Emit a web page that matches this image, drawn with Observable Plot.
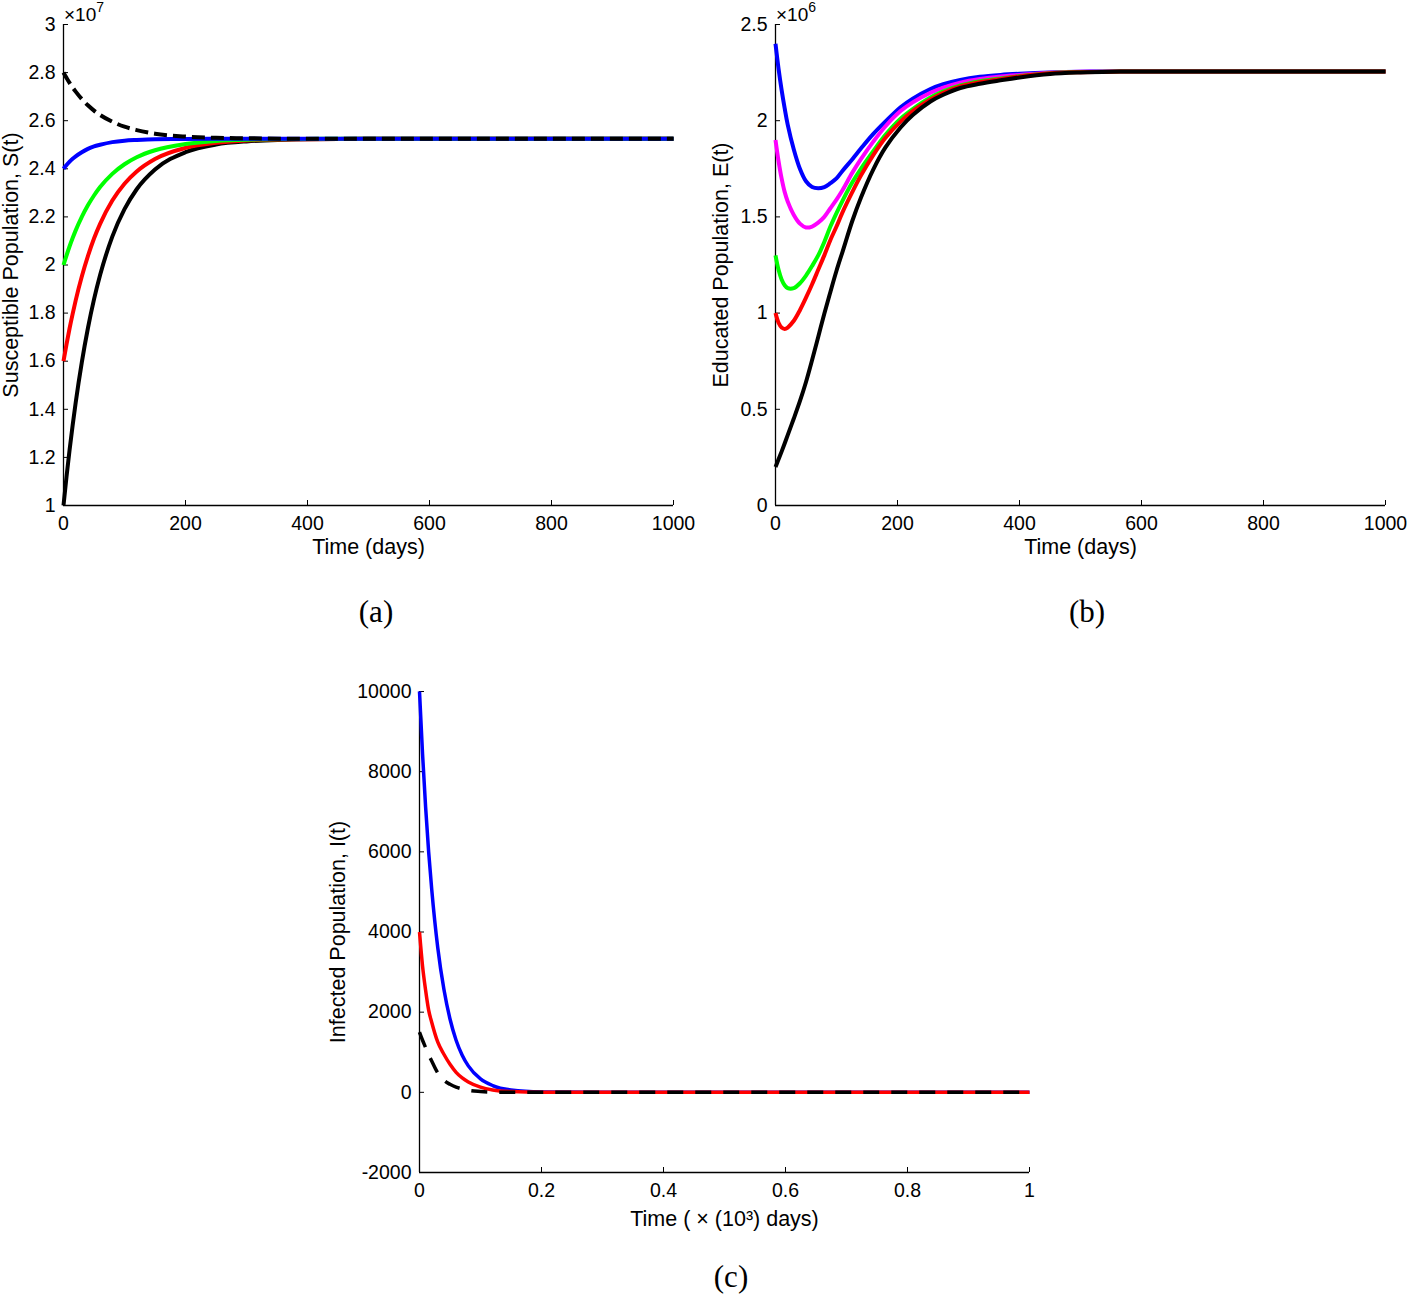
<!DOCTYPE html>
<html><head><meta charset="utf-8">
<script src="https://cdn.jsdelivr.net/npm/d3@7"></script>
<script src="https://cdn.jsdelivr.net/npm/@observablehq/plot@0.6"></script>
<style>
body{margin:0;background:#fff;}
#wrap{position:relative;width:1407px;height:1295px;background:#fff;}
.panel{position:absolute;}
.cap{position:absolute;font-family:"Liberation Serif","DejaVu Serif",serif;font-size:31px;transform:translate(-50%,-50%);color:#000;white-space:nowrap;}
#wrap g[aria-label="x-axis label"], #wrap g[aria-label="y-axis label"]{font-size:21.5px;}
</style></head><body><div id="wrap"></div>
<script>
// ---------- Panel (a): Susceptible population S(t), units of 10^7 ----------
const tA = [0,5,10,15,20,30,40,50,60,80,100,120,150,200,250,300,400,500,600,700,800,900,1000];
const sBlack  = [1.000,1.121,1.232,1.334,1.428,1.595,1.737,1.857,1.958,2.118,2.232,2.315,2.397,2.469,2.501,2.514,2.523,2.525,2.525,2.525,2.525,2.525,2.525];
const sRed    = [1.600,1.671,1.737,1.797,1.853,1.952,2.037,2.110,2.171,2.268,2.338,2.389,2.441,2.487,2.508,2.518,2.523,2.525,2.525,2.525,2.525,2.525,2.525];
const sGreen  = [2.000,2.040,2.078,2.112,2.144,2.200,2.248,2.289,2.324,2.379,2.419,2.448,2.477,2.503,2.516,2.521,2.524,2.525,2.525,2.525,2.525,2.525,2.525];
const sBlue   = [2.400,2.416,2.430,2.442,2.452,2.469,2.483,2.493,2.500,2.511,2.517,2.520,2.523,2.524,2.525,2.525,2.525,2.525,2.525,2.525,2.525,2.525,2.525];
const sDashed = [2.800,2.778,2.757,2.738,2.721,2.690,2.664,2.642,2.624,2.596,2.575,2.561,2.546,2.534,2.529,2.527,2.525,2.525,2.525,2.525,2.525,2.525,2.525];
const sTicks = [1,1.2,1.4,1.6,1.8,2,2.2,2.4,2.6,2.8,3];
const sTickLabels = ["1","1.2","1.4","1.6","1.8","2","2.2","2.4","2.6","2.8","3"];

// ---------- Panel (b): Educated population E(t), units of 10^6 ----------
const tB = [0,5,10,15,20,30,40,50,60,70,80,90,100,110,126,140,160,180,205,225,254,275,303,335,369,400,450,500,550,600,1000];
const eBlue    = [2.40,2.27,2.16,2.065,1.98,1.85,1.75,1.685,1.655,1.649,1.655,1.675,1.70,1.74,1.80,1.855,1.93,1.995,2.07,2.115,2.165,2.19,2.212,2.228,2.238,2.244,2.251,2.255,2.256,2.256,2.256];
const eMagenta = [1.90,1.79,1.70,1.63,1.58,1.51,1.465,1.445,1.45,1.47,1.50,1.545,1.59,1.64,1.73,1.80,1.89,1.97,2.05,2.095,2.145,2.172,2.198,2.217,2.23,2.238,2.249,2.254,2.256,2.256,2.256];
const eGreen   = [1.30,1.225,1.175,1.145,1.13,1.13,1.155,1.195,1.245,1.30,1.37,1.45,1.52,1.585,1.68,1.75,1.84,1.925,2.01,2.06,2.12,2.152,2.183,2.205,2.22,2.232,2.247,2.253,2.255,2.256,2.256];
const eRed     = [1.00,0.95,0.925,0.918,0.925,0.96,1.015,1.08,1.15,1.225,1.30,1.38,1.45,1.525,1.63,1.715,1.82,1.91,1.995,2.05,2.11,2.145,2.178,2.20,2.216,2.23,2.246,2.252,2.255,2.256,2.256];
const eBlack   = [0.20,0.24,0.28,0.322,0.366,0.452,0.542,0.642,0.756,0.876,0.997,1.11,1.22,1.32,1.48,1.60,1.745,1.86,1.965,2.03,2.10,2.135,2.17,2.192,2.21,2.225,2.243,2.251,2.255,2.256,2.256];
const eTicks = [0,0.5,1,1.5,2,2.5];
const eTickLabels = ["0","0.5","1","1.5","2","2.5"];

// ---------- Panel (c): Infected population I(t), time in 10^3 days ----------
const tC = [0,0.005,0.01,0.015,0.02,0.03,0.04,0.05,0.06,0.07,0.08,0.1,0.12,0.15,0.2,0.3,0.5,1];
const iBlue   = [10000,8440,7120,6000,5070,3600,2570,1830,1300,925,660,335,170,60,11,0,0,0];
const iRed    = [4000,3150,2550,2050,1750,1250,950,700,500,360,260,130,60,20,3,0,0,0];
const iDashed = [1500,1300,1120,940,780,480,300,200,130,85,50,20,5,0,0,0,0,0];
const iTicks = [-2000,0,2000,4000,6000,8000,10000];
const iTickLabels = ["-2000","0","2000","4000","6000","8000","10000"];

const dayTicks = [0,200,400,600,800,1000];
const dayTickLabels = ["0","200","400","600","800","1000"];
const kdayTicks = [0,0.2,0.4,0.6,0.8,1];
const kdayTickLabels = ["0","0.2","0.4","0.6","0.8","1"];

const captions = ["(a)","(b)","(c)"];

function rows(t, v){ return t.map((d,i)=>({t:d, v:v[i]})); }
function fmt(ticks, labels){ const m = new Map(ticks.map((d,i)=>[d,labels[i]])); return d => m.get(d); }

function panel(cfg){
  const lines = cfg.series.map(s => Plot.line(rows(s.t, s.v), {
    x:"t", y:"v", stroke:s.color, strokeWidth:s.w, curve:cfg.curve,
    strokeDasharray: s.dash || null, strokeLinecap:"butt", strokeLinejoin:"round"
  }));
  const svg = Plot.plot({
    width: cfg.width, height: cfg.height,
    marginLeft: cfg.mL, marginRight: cfg.mR, marginTop: cfg.mT, marginBottom: cfg.mB,
    x: {domain: cfg.xDomain}, y: {domain: cfg.yDomain},
    style: {fontFamily:"'Liberation Sans', Arial, sans-serif", fontSize:"19.5px", color:"#000", background:"transparent", overflow:"visible"},
    marks: [
      Plot.ruleX([cfg.xDomain[0]], {stroke:"#000", strokeWidth:1.3}),
      Plot.ruleY([cfg.yDomain[0]], {stroke:"#000", strokeWidth:1.3}),
      Plot.axisX(cfg.xTicks, {tickSize:-5, tickPadding:16, tickFormat: fmt(cfg.xTicks, cfg.xLabels),
        label: cfg.xLabel, labelAnchor:"center", labelArrow:"none", labelOffset: cfg.xLabelOffset}),
      Plot.axisY(cfg.yTicks, {tickSize:-5, tickPadding:13, tickFormat: fmt(cfg.yTicks, cfg.yLabels),
        label: cfg.yLabel, labelAnchor:"center", labelArrow:"none", labelOffset: cfg.yLabelOffset}),
      ...lines
    ]
  });
  if (cfg.expo){
    const t = d3.select(svg).append("text")
      .attr("x", cfg.mL + 1).attr("y", cfg.mT - 3)
      .attr("text-anchor", "start")
      .attr("font-size", 19).attr("fill", "#000");
    t.append("tspan").text("×10");
    t.append("tspan").attr("dy", -9).attr("font-size", 14).text(cfg.expo);
  }
  const div = document.createElement("div");
  div.className = "panel";
  div.style.left = cfg.left + "px"; div.style.top = cfg.top + "px";
  div.appendChild(svg);
  document.getElementById("wrap").appendChild(div);
}

panel({
  left:0, top:0, width:700, height:570, mL:63, mR:27, mT:24, mB:65, curve:"monotone-x",
  xDomain:[0,1000], yDomain:[1,3], xTicks:dayTicks, xLabels:dayTickLabels, yTicks:sTicks, yLabels:sTickLabels,
  xLabel:"Time (days)", yLabel:"Susceptible Population, S(t)", xLabelOffset:48, yLabelOffset:61, expo:"7",
  series:[
    {t:tA, v:sBlack, color:"#000000", w:4},
    {t:tA, v:sRed, color:"#ff0000", w:4},
    {t:tA, v:sGreen, color:"#00ff00", w:4},
    {t:tA, v:sBlue, color:"#0000ff", w:4},
    {t:tA, v:sDashed, color:"#000000", w:4, dash:"13,6"}
  ]
});

panel({
  left:700, top:0, width:707, height:570, mL:75, mR:22, mT:24, mB:65, curve:"catmull-rom",
  xDomain:[0,1000], yDomain:[0,2.5], xTicks:dayTicks, xLabels:dayTickLabels, yTicks:eTicks, yLabels:eTickLabels,
  xLabel:"Time (days)", yLabel:"Educated Population, E(t)", xLabelOffset:48, yLabelOffset:63, expo:"6",
  series:[
    {t:tB, v:eBlue, color:"#0000ff", w:4},
    {t:tB, v:eMagenta, color:"#ff00ff", w:4},
    {t:tB, v:eGreen, color:"#00ff00", w:4},
    {t:tB, v:eRed, color:"#ff0000", w:4},
    {t:tB, v:eBlack, color:"#000000", w:4}
  ]
});

panel({
  left:300, top:660, width:760, height:580, mL:119, mR:31, mT:31, mB:68, curve:"monotone-x",
  xDomain:[0,1], yDomain:[-2000,10000], xTicks:kdayTicks, xLabels:kdayTickLabels, yTicks:iTicks, yLabels:iTickLabels,
  xLabel:"Time ( × (10³) days)", yLabel:"Infected Population, I(t)", xLabelOffset:53, yLabelOffset:90,
  series:[
    {t:tC, v:iBlue, color:"#0000ff", w:3.5},
    {t:tC, v:iRed, color:"#ff0000", w:3.5},
    {t:tC, v:iDashed, color:"#000000", w:3.5, dash:"16,12"}
  ]
});

const capPos = [[376,612],[1087,612],[731,1277]];
captions.forEach((c,i)=>{
  const d = document.createElement("div");
  d.className = "cap"; d.textContent = c;
  d.style.left = capPos[i][0] + "px"; d.style.top = capPos[i][1] + "px";
  document.getElementById("wrap").appendChild(d);
});
</script></body></html>
